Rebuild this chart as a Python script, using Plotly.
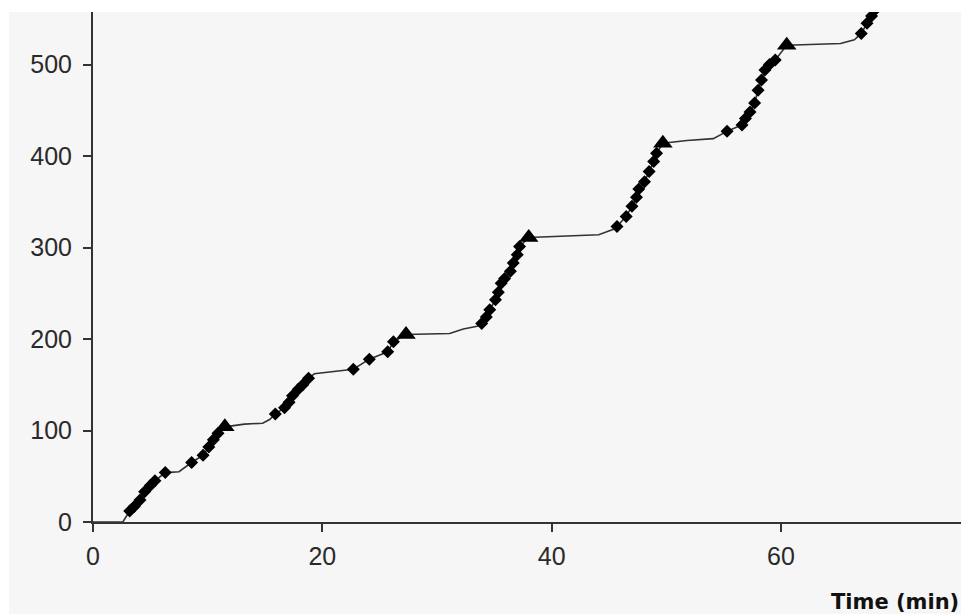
import plotly.graph_objects as go

# Diamond data points (time in min, value)
diamond_t = [3.2, 3.6, 4.1, 4.5, 5.0, 5.4, 6.3,
             8.6, 9.6, 10.1, 10.5, 10.9,
             15.9, 16.7, 17.1, 17.4, 17.9, 18.3, 18.8,
             22.7, 24.1, 25.7, 26.2,
             33.9, 34.3, 34.6, 35.1, 35.35, 35.6, 35.9, 36.4, 36.65, 37.0, 37.2,
             45.7, 46.5, 47.0, 47.4, 47.6, 48.1, 48.5, 48.9, 49.15,
             55.3, 56.6, 56.9, 57.3, 57.7, 58.0, 58.3, 58.6, 59.0, 59.5,
             67.0, 67.5, 67.9, 68.3]
diamond_v = [12, 17, 24, 33, 40, 45, 54,
             65, 73, 82, 90, 97,
             118, 125, 131, 138, 145, 150, 157,
             167, 178, 186, 197,
             217, 224, 232, 243, 251, 261, 266, 274, 283, 292, 301,
             323, 334, 345, 355, 364, 372, 383, 394, 403,
             427, 434, 441, 448, 458, 472, 483, 494, 500, 505,
             534, 545, 553, 561]

# Triangle markers (end of each step)
triangle_t = [11.5, 27.3, 38.0, 49.7, 60.5]
triangle_v = [104, 205, 311, 414, 521]

# Additional points of the connecting curve (plateaus)
plateau_t = [0.0, 2.6, 7.5, 13.2, 14.8, 15.4, 19.3, 20.5, 22.1, 25.0,
             31.1, 32.3, 33.5, 44.1, 45.4, 51.8, 54.1, 55.0, 65.2, 66.4]
plateau_v = [0, 0, 55, 107, 108, 112, 162, 164, 166, 183,
             206, 211, 214, 314, 320, 417, 419, 425, 523, 527]

x_ticks = [0, 20, 40, 60]
y_ticks = [0, 100, 200, 300, 400, 500]

curve = sorted(zip(diamond_t + triangle_t + plateau_t,
                   diamond_v + triangle_v + plateau_v))
curve_t = [p[0] for p in curve]
curve_v = [p[1] for p in curve]

fig = go.Figure()
fig.add_trace(go.Scatter(x=curve_t, y=curve_v, mode="lines",
                         line=dict(color="#333333", width=1.6),
                         showlegend=False, hoverinfo="skip"))
fig.add_trace(go.Scatter(x=diamond_t, y=diamond_v, mode="markers",
                         marker=dict(symbol="diamond", size=10, color="#000000"),
                         showlegend=False))
fig.add_trace(go.Scatter(x=triangle_t, y=triangle_v, mode="markers",
                         marker=dict(symbol="triangle-up", size=17, color="#000000"),
                         showlegend=False))

tick_font = dict(family="Liberation Sans Narrow, Arial Narrow, Liberation Sans, Arial",
                 size=25, color="#2a2a2a")

fig.update_layout(
    width=961, height=614,
    margin=dict(l=93, r=0, t=12, b=92),
    paper_bgcolor="#f6f6f6",
    plot_bgcolor="#f6f6f6",
    xaxis=dict(range=[0, 75.7], tickvals=x_ticks, showgrid=False, zeroline=False,
               showline=True, linecolor="#333333", linewidth=2,
               ticks="outside", ticklen=8, tickwidth=2, tickcolor="#333333",
               tickfont=tick_font, ticklabelstandoff=3),
    yaxis=dict(range=[0, 557.4], tickvals=y_ticks, showgrid=False, zeroline=False,
               showline=True, linecolor="#333333", linewidth=2,
               ticks="outside", ticklen=8, tickwidth=2, tickcolor="#333333",
               tickfont=tick_font, ticklabelstandoff=6),
    shapes=[
        dict(type="rect", xref="paper", yref="paper", x0=-0.2, x1=-0.0968,
             y0=-0.3, y1=1.1, fillcolor="white", line=dict(width=0), layer="below"),
        dict(type="rect", xref="paper", yref="paper", x0=-0.2, x1=1.1,
             y0=1.0, y1=1.1, fillcolor="white", line=dict(width=0), layer="below"),
    ],
    annotations=[
        dict(text="<b>Time (min)</b>", xref="paper", yref="paper",
             x=1.0, y=-0.157, xanchor="right", yanchor="middle", showarrow=False,
             font=dict(family="DejaVu Sans, Verdana, sans-serif", size=21, color="#111111"))
    ],
)

fig.write_html("out.html",
               config={"displayModeBar": False},
               post_script="document.body.style.margin='0';document.body.style.overflow='hidden';")
